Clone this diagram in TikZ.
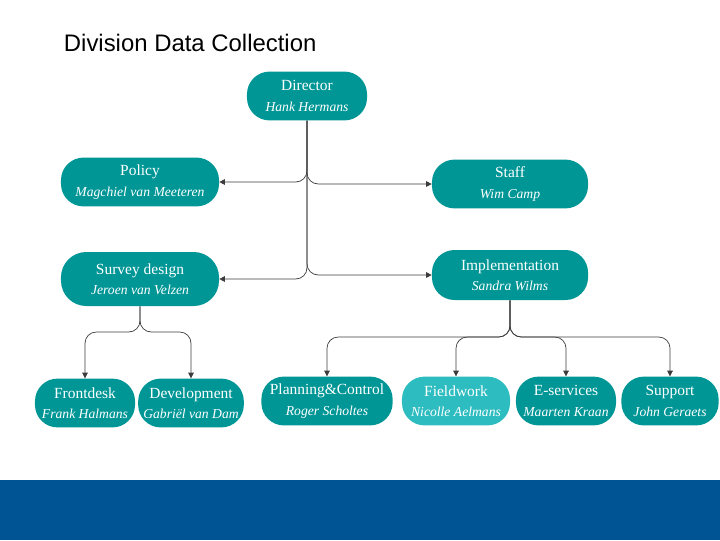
\documentclass[tikz,border=0pt]{standalone}
\usepackage{fontspec}
\setmainfont{Liberation Serif}
\newfontfamily\titlefont{Liberation Sans}
\usetikzlibrary{arrows.meta}
\definecolor{unitteal}{RGB}{0,150,150}
\definecolor{unitlight}{RGB}{45,188,192}
\definecolor{bandblue}{RGB}{0,84,147}
\definecolor{linegray}{RGB}{60,60,60}
\newcommand\unitname[1]{{\itshape\fontsize{9.7}{12}\selectfont #1}}
\tikzset{
  unit/.style={rectangle, rounded corners=16pt, fill=unitteal, text=white, align=center,
    minimum height=1.22cm, inner sep=0.5pt, font=\fontsize{11}{14.5}\selectfont},
  conn/.style={draw=linegray, line width=0.5pt, rounded corners=8pt,
    -{Triangle[length=4pt,width=4pt]}}
}
\begin{document}
\begin{tikzpicture}[x=0.025cm,y=-0.025cm]%
\useasboundingbox (0,0) rectangle (720,540);%
\fill[bandblue] (0,480) rectangle (720,540);%
\node[font=\titlefont\fontsize{17}{20}\selectfont, anchor=west] (title) at (59,43) {Division Data Collection};%
% top levels
\node[unit, minimum width=3.0cm] (director) at (307,96) {Director\\\unitname{Hank Hermans}};%
\node[unit, minimum width=3.95cm] (policy) at (140,182) {Policy\\\unitname{Magchiel van Meeteren}};%
\node[unit, minimum width=3.9cm] (staff) at (510,184) {Staff\\\unitname{Wim Camp}};%
\node[unit, minimum width=3.95cm, minimum height=1.35cm, rounded corners=18pt] (survey) at (140,279) {Survey design\\\unitname{Jeroen van Velzen}};%
\node[unit, minimum width=3.9cm, minimum height=1.25cm] (impl) at (510,275) {Implementation\\\unitname{Sandra Wilms}};%
% bottom level
\node[unit, minimum width=2.5cm] (frontdesk) at (85,403) {Frontdesk\\\unitname{Frank Halmans}};%
\node[unit, minimum width=2.64cm] (development) at (191,403) {Development\\\unitname{Gabriël van Dam}};%
\node[unit, minimum width=3.28cm] (planning) at (327,401) {Planning\&Control\\\unitname{Roger Scholtes}};%
\node[unit, fill=unitlight, minimum width=2.7cm] (fieldwork) at (456,401) {Fieldwork\\\unitname{Nicolle Aelmans}};%
\node[unit, minimum width=2.5cm] (eservices) at (566,401) {E-services\\\unitname{Maarten Kraan}};%
\node[unit, minimum width=2.43cm] (support) at (670,401) {Support\\\unitname{John Geraets}};%
% connectors
\coordinate (surveyjoin) at (140,332);%
\coordinate (impljoin) at (510,337);%
\draw[conn] (director.south) |- (policy.east);%
\draw[conn] (director.south) |- (staff.west);%
\draw[conn] (director.south) |- (survey.east);%
\draw[conn] (director.south) |- (impl.west);%
\draw[conn] (survey.south) -- (surveyjoin) -| (frontdesk.north);%
\draw[conn] (survey.south) -- (surveyjoin) -| (development.north);%
\draw[conn] (impl.south) -- (impljoin) -| (planning.north);%
\draw[conn] (impl.south) -- (impljoin) -| (fieldwork.north);%
\draw[conn] (impl.south) -- (impljoin) -| (eservices.north);%
\draw[conn] (impl.south) -- (impljoin) -| (support.north);%
\end{tikzpicture}
\end{document}
